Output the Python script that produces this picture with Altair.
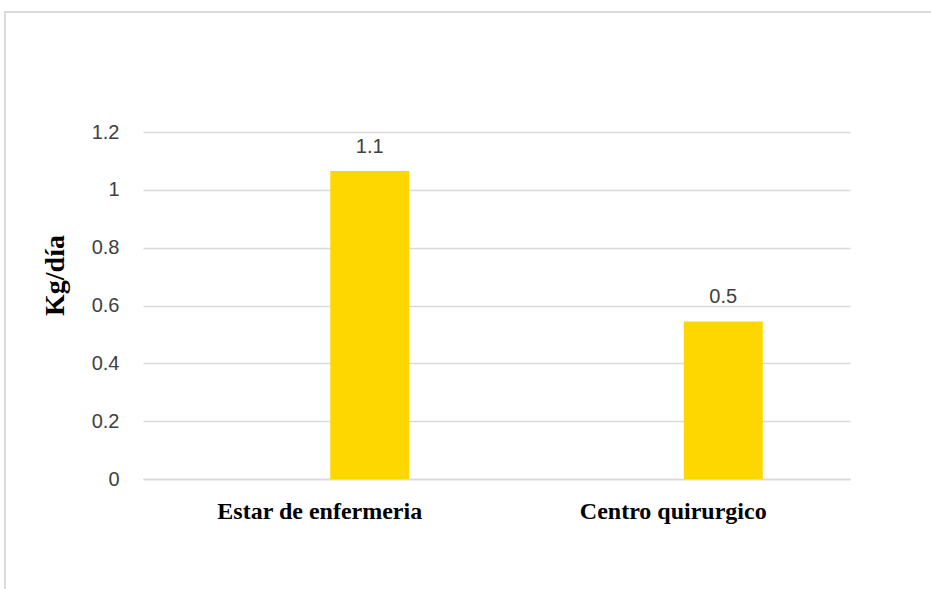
import altair as alt
import pandas as pd

categories = ["Estar de enfermeria", "Centro quirurgico"]
values = [1.065, 0.545]
labels = ["1.1", "0.5"]

df = pd.DataFrame({"cat": categories, "val": values, "lab": labels})

W, H = 707, 347

x = alt.X("cat:N", sort=categories,
          scale=alt.Scale(paddingInner=0, paddingOuter=0),
          axis=alt.Axis(title=None, labelAngle=0, labelFont="Liberation Serif",
                        labelFontWeight="bold", labelFontSize=24, labelColor="#000000",
                        labelPadding=20, labelLimit=0, ticks=False, grid=False,
                        domain=True, domainColor="#d9d9d9",
                        domainWidth=1.5, labelBaseline="top"))

y = alt.Y("val:Q", scale=alt.Scale(domain=[0, 1.2], nice=False),
          axis=alt.Axis(title="Kg/día", values=[0, 0.2, 0.4, 0.6, 0.8, 1.0, 1.2],
                        labelExpr="datum.value == 1 ? '1' : (datum.value == 0 ? '0' : format(datum.value, '.1f'))",
                        labelFont="Liberation Sans", labelFontSize=20, labelColor="#404040",
                        labelPadding=24, ticks=False, domain=False,
                        grid=True, gridColor="#d9d9d9", gridWidth=1.5,
                        titleFont="Liberation Serif", titleFontWeight="bold", titleFontSize=28,
                        titleColor="#000000", titleAngle=270, titleAlign="center",
                        titleBaseline="alphabetic", titleX=-80, titleY=143))

bars = alt.Chart(df).mark_bar(color="#FFD700", width=79, xOffset=50).encode(x=x, y=y)

text = alt.Chart(df).mark_text(font="Liberation Sans", fontSize=20, color="#404040",
                               baseline="alphabetic", dy=-18, xOffset=50).encode(
    x=x, y=y, text="lab:N")

frame = alt.Chart(df).mark_rect(fill=None, stroke="#d9d9d9", strokeWidth=2).encode(
    x=alt.value(-138), x2=alt.value(800), y=alt.value(-120), y2=alt.value(470))

chart = alt.layer(frame, bars, text).properties(
    width=W, height=H,
    background="white",
    padding={"left": 143, "top": 132, "right": 81, "bottom": 110},
    autosize=alt.AutoSizeParams(type="none"),
).configure_view(strokeWidth=0, stroke="transparent")

chart.save("out.html", embed_options={"renderer": "svg", "actions": False})
